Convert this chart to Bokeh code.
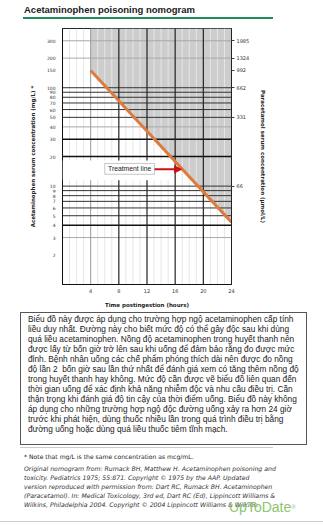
from bokeh.plotting import figure
from bokeh.models import (LogAxis, Range1d, FixedTicker, Div, LogScale, Label,
                          Arrow, NormalHead, BoxAnnotation)
from bokeh.layouts import column
from bokeh.embed import file_html
from bokeh.resources import INLINE

# ---------------- data ----------------
x_start, x_end = 0, 24                 # hours postingestion
y_start, y_end = 1, 400                # mg/L
time_points = [4, 24]                  # treatment line (hours)
treatment_conc = [150, 4.3]            # treatment line (mg/L)
x_ticks = [4, 8, 12, 16, 20, 24]
left_ticks = [300, 200, 150, 100, 90, 80, 70, 60, 50, 40, 30, 20, 10, 9, 8, 7, 6, 5, 4, 3, 2]
right_ticks = [300, 200, 150, 100, 50, 10]
right_labels = ["1985", "1324", "992", "662", "331", "66"]
minor_hours = [1, 2, 3, 5, 6, 7, 9, 10, 11, 13, 14, 15, 17, 18, 19, 21, 22, 23]
mid_hours = [4]
major_hours = [8, 12, 16, 20]
dark_levels = [100, 90, 80, 70, 60, 50, 10, 9, 8, 7, 6, 5]
heavy_levels = [30, 20, 4]
gray_levels = [300, 200, 40, 3]

FONT = "DejaVu Sans"

# ---------------- title ----------------
title_div = Div(width=323, height=22, margin=0, text=(
    '<div style="position:relative;width:323px;height:22px;">'
    '<div style="position:absolute;left:24px;top:4px;font-family:\'Liberation Sans\';'
    'font-weight:bold;font-size:9.5px;line-height:12px;color:#222;white-space:nowrap;">'
    'Acetaminophen poisoning nomogram</div>'
    '<div style="position:absolute;left:23px;top:17px;width:250px;height:2px;background:#1f8a5c;"></div>'
    '</div>'))

# ---------------- chart ----------------
p = figure(width=323, height=288, x_range=Range1d(x_start, x_end),
           y_range=Range1d(y_start, y_end), y_axis_type="log",
           output_backend="svg", toolbar_location=None, title=None,
           min_border_left=62, min_border_right=92, min_border_top=6, min_border_bottom=24)
p.xgrid.visible = False
p.ygrid.visible = False
p.outline_line_color = "#222"
p.outline_line_width = 1
p.background_fill_color = "white"
p.border_fill_color = "white"

# shaded zone above treatment line
p.patch(x=[time_points[0], time_points[1], time_points[1], time_points[0]],
        y=[treatment_conc[0], treatment_conc[1], y_end, y_end],
        fill_color="#cdcdcd", line_color=None)

# grid lines
p.segment(x0=minor_hours, y0=[y_start] * len(minor_hours), x1=minor_hours, y1=[y_end] * len(minor_hours),
          line_color="#e6e6e6", line_width=1)
p.segment(x0=[x_start] * len(gray_levels), y0=gray_levels, x1=[x_end] * len(gray_levels), y1=gray_levels,
          line_color="#a8a8a8", line_width=1)
p.segment(x0=mid_hours, y0=[y_start] * len(mid_hours), x1=mid_hours, y1=[y_end] * len(mid_hours),
          line_color="#9a9a9a", line_width=1)
p.segment(x0=[x_start] * len(dark_levels), y0=dark_levels, x1=[x_end] * len(dark_levels), y1=dark_levels,
          line_color="#333333", line_width=1)
p.segment(x0=[x_start] * len(heavy_levels), y0=heavy_levels, x1=[x_end] * len(heavy_levels), y1=heavy_levels,
          line_color="#111111", line_width=1.4)
p.segment(x0=major_hours, y0=[y_start] * len(major_hours), x1=major_hours, y1=[y_end] * len(major_hours),
          line_color="#222222", line_width=1.2)

# white cover behind the label
p.add_layout(BoxAnnotation(left=0, right=15.6, bottom=11.5, top=18.2,
                           fill_color="white", fill_alpha=1, line_alpha=0))

# treatment line
p.line(time_points, treatment_conc, line_color="#dd7b3c", line_width=3)

# label box + arrow
p.add_layout(BoxAnnotation(left=6.0, right=13.07, bottom=13.2, top=17.0,
                           fill_color="white", fill_alpha=1, line_color="#444", line_width=1))
p.add_layout(Label(x=9.53, y=15.0, text="Treatment line", text_align="center",
                   text_baseline="middle", text_font="Liberation Sans",
                   text_font_size="6.8px", text_color="#222"))
p.add_layout(Arrow(x_start=13.07, y_start=14.8, x_end=16.9, y_end=14.8,
                   line_color="#cc1111", line_width=2,
                   end=NormalHead(size=7, fill_color="#cc1111", line_color="#cc1111")))

# left axis
ya = p.yaxis[0]
ya.ticker = FixedTicker(ticks=left_ticks, minor_ticks=[])
ya.major_label_overrides = {t: str(t) for t in left_ticks}
ya.major_tick_out = 0
ya.major_tick_in = 0
ya.minor_tick_out = 0
ya.minor_tick_in = 0
ya.major_label_standoff = 7
ya.major_label_text_font = FONT
ya.major_label_text_font_size = "4.5px"
ya.major_label_text_color = "#333"
ya.axis_line_color = "#111"
ya.axis_label = "Acetaminophen serum concentration (mg/L) *"
ya.axis_label_text_font = FONT
ya.axis_label_text_font_style = "bold"
ya.axis_label_text_font_size = "5.5px"
ya.axis_label_text_color = "#222"
ya.axis_label_standoff = 8

# right axis (µmol/L)
p.extra_y_ranges = {"umol": Range1d(y_start, y_end)}
p.extra_y_scales = {"umol": LogScale()}
ra = LogAxis(y_range_name="umol", ticker=FixedTicker(ticks=right_ticks, minor_ticks=[]),
             major_label_overrides=dict(zip(right_ticks, right_labels)))
ra.major_tick_out = 3
ra.major_tick_in = 0
ra.minor_tick_out = 0
ra.minor_tick_in = 0
ra.major_tick_line_color = "#444"
ra.major_label_standoff = 2
ra.major_label_text_font = FONT
ra.major_label_text_font_size = "5px"
ra.major_label_text_color = "#333"
ra.axis_line_color = "#222"
ra.axis_label = "Paracetamol serum concentration (µmol/L)"
ra.axis_label_text_font = FONT
ra.axis_label_text_font_style = "bold"
ra.axis_label_text_font_size = "5.5px"
ra.axis_label_text_color = "#222"
ra.axis_label_standoff = 8
p.add_layout(ra, "right")

# bottom axis
xa = p.xaxis[0]
xa.ticker = FixedTicker(ticks=x_ticks, minor_ticks=[])
xa.major_label_overrides = {t: str(t) for t in x_ticks}
xa.major_tick_out = 0
xa.major_tick_in = 0
xa.minor_tick_out = 0
xa.minor_tick_in = 0
xa.major_label_standoff = 4
xa.major_label_text_font = FONT
xa.major_label_text_font_size = "5px"
xa.major_label_text_color = "#333"
xa.axis_line_color = "#111"
xa.axis_label = "Time postingestion (hours)"
xa.axis_label_text_font = FONT
xa.axis_label_text_font_style = "bold"
xa.axis_label_text_font_size = "5.5px"
xa.axis_label_text_color = "#222"
xa.axis_label_standoff = 6

# ---------------- text below ----------------
para_lines = [
    "Biểu đồ này được áp dụng cho trường hợp ngộ acetaminophen cấp tính",
    "liều duy nhất. Đường này cho biết mức độ có thể gây độc sau khi dùng",
    "quá liều acetaminophen. Nồng độ acetaminophen trong huyết thanh nên",
    "được lấy từ bốn giờ trở lên sau khi uống để đảm bảo rằng đo được mức",
    "đỉnh. Bệnh nhân uống các chế phẩm phóng thích dài nên được đo nồng",
    "độ lần 2&nbsp; bốn giờ sau lần thứ nhất để đánh giá xem có tăng thêm nồng độ",
    "trong huyết thanh hay không. Mức độ cần được vẽ biểu đồ liên quan đến",
    "thời gian uống để xác định khả năng nhiễm độc và nhu cầu điều trị. Cần",
    "thận trọng khi đánh giá độ tin cậy của thời điểm uống. Biểu đồ này không",
    "áp dụng cho những trường hợp ngộ độc đường uống xảy ra hơn 24 giờ",
    "trước khi phát hiện, dùng thuốc nhiều lần trong quá trình điều trị bằng",
    "đường uống hoặc dùng quá liều thuốc tiêm tĩnh mạch.",
]
cite_lines = [
    "Original nomogram from: Rumack BH, Matthew H. Acetaminophen poisoning and",
    "toxicity. Pediatrics 1975; 55:871. Copyright © 1975 by the AAP. Updated",
    "version reproduced with permission from: Dart RC, Rumack BH. Acetaminophen",
    "(Paracetamol). In: Medical Toxicology, 3rd ed, Dart RC (Ed), Lippincott Williams &amp;",
    "Wilkins, Philadelphia 2004. Copyright © 2004 Lippincott Williams &amp; Wilkins.",
]
footnote = "* Note that mg/L is the same concentration as mcg/mL."

bottom_html = (
    '<div style="position:relative;width:323px;height:216px;">'
    '<div style="position:absolute;left:20px;top:2px;width:287px;height:133px;box-sizing:border-box;'
    'border:1px solid #555;padding:1px 0 0 7px;font-family:\'Liberation Sans\';font-size:8.3px;'
    'line-height:10px;color:#222;white-space:nowrap;">' + "<br>".join(para_lines) + '</div>'
    '<div style="position:absolute;left:20px;top:137px;width:253px;height:1px;background:#cccccc;"></div>'
    '<div style="position:absolute;left:24px;top:141.5px;font-family:\'DejaVu Sans\';font-size:6.1px;'
    'line-height:9px;color:#222;white-space:nowrap;">' + footnote + '</div>'
    '<div style="position:absolute;left:24px;top:153.5px;font-family:\'DejaVu Sans\';font-style:italic;'
    'font-size:6.2px;line-height:9px;color:#333;white-space:nowrap;">' + "<br>".join(cite_lines) + '</div>'
    '<div style="position:absolute;left:229px;top:190px;font-family:\'Liberation Sans\';font-size:14px;'
    'line-height:14px;color:#8cc66e;white-space:nowrap;">UpToDate<span style="font-size:6px;'
    'vertical-align:top;">®</span></div>'
    '<div style="position:absolute;left:0px;top:211px;width:323px;height:1px;background:#cccccc;"></div>'
    '</div>'
)
bottom_div = Div(width=323, height=216, margin=0, text=bottom_html)

layout = column(title_div, p, bottom_div, spacing=0)
open("out.html", "w").write(file_html(layout, INLINE))
